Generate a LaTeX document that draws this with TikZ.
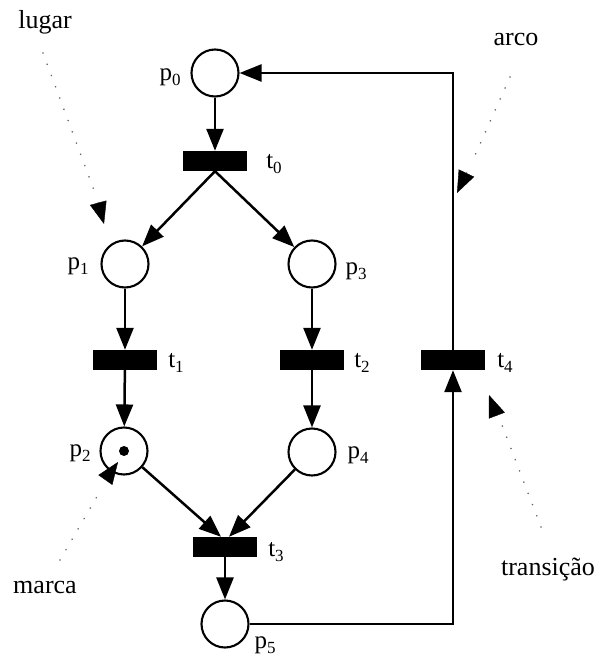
\documentclass[tikz,border=0pt]{standalone}
\usepackage{fontspec}
\setmainfont{Liberation Serif}
\usetikzlibrary{arrows.meta}
\newcommand\PNlab[2]{#1\raisebox{-5pt}{\fontsize{17}{17}\selectfont #2}}
\begin{document}
\begin{tikzpicture}[x=1pt,y=-1pt,
  place/.style={circle,draw,line width=2.1pt,minimum size=47pt,inner sep=0pt},
  trans/.style={rectangle,fill=black,minimum width=64pt,minimum height=20pt,inner sep=0pt},
  arc/.style={line width=2.5pt,-{Triangle[length=22pt,width=17pt]}},
  lbl/.style={font=\fontsize{25}{28}\selectfont,inner sep=0pt},
  note/.style={font=\fontsize{26}{28}\selectfont,inner sep=0pt},
  dots/.style={line width=1.8pt,dash pattern=on 0.01pt off 12pt,line cap=round,black!60},
  tipar/.style={line width=0.4pt,-{Triangle[length=22pt,width=17pt]}}
]
\useasboundingbox (0,0) rectangle (598,660);
% places
\node[place] (p0) at (215,73) {};
\node[place] (p1) at (125,264) {};
\node[place] (p3) at (312,264) {};
\node[place] (p2) at (124,451) {};
\node[place] (p4) at (312,452) {};
\node[place] (p5) at (225,624) {};
\node[circle,fill,inner sep=0pt,minimum size=10pt] (tok) at (p2) {};
% transitions
\node[trans] (t0) at (215,161) {};
\node[trans] (t1) at (125,360) {};
\node[trans] (t2) at (312,360) {};
\node[trans] (t4) at (453,360) {};
\node[trans] (t3) at (225,547) {};
% labels
\node[lbl] (lp0) at (170,77) {\PNlab{p}{0}};
\node[lbl] (lt0) at (274,164) {\PNlab{t}{0}};
\node[lbl] (lp1) at (78,266) {\PNlab{p}{1}};
\node[lbl] (lp3) at (356,271) {\PNlab{p}{3}};
\node[lbl] (lt1) at (176,363) {\PNlab{t}{1}};
\node[lbl] (lt2) at (362,363) {\PNlab{t}{2}};
\node[lbl] (lt4) at (505,363) {\PNlab{t}{4}};
\node[lbl] (lp2) at (80,453) {\PNlab{p}{2}};
\node[lbl] (lp4) at (358,455) {\PNlab{p}{4}};
\node[lbl] (lt3) at (276,552) {\PNlab{t}{3}};
\node[lbl] (lp5) at (265,645) {\PNlab{p}{5}};
% arcs
\draw[arc] (p0) -- (t0);
\draw[arc] (t0.south) -- (p1);
\draw[arc] (t0.south) -- (p3);
\draw[arc] (p1) -- (t1);
\draw[arc] (p3) -- (t2);
\draw[arc] (t1) -- (p2);
\draw[arc] (t2) -- (p4);
\draw[arc] (p2) -- ([xshift=-4pt]t3.north);
\draw[arc] (p4) -- ([xshift=4pt]t3.north);
\draw[arc] (t3) -- (p5);
\draw[arc] (p5.east) -| (t4.south);
\draw[arc] (t4.north) |- (p0.east);
% annotations
\node[note] (nlugar) at (45,22) {lugar};
\node[note] (narco) at (516,40) {arco};
\node[note] (ntrans) at (548,570) {transição};
\node[note] (nmarca) at (45,587) {marca};
\coordinate (a1) at (43,53); \coordinate (a2) at (95,193);
\coordinate (a3) at (98,202); \coordinate (a4) at (104,224);
\draw[dots] (a1) -- (a2);
\draw[tipar] (a3) -- (a4);
\coordinate (b1) at (510,77); \coordinate (b2) at (472,162);
\coordinate (b3) at (467,172); \coordinate (b4) at (457,193);
\draw[dots] (b1) -- (b2);
\draw[tipar] (b3) -- (b4);
\coordinate (c1) at (541,527); \coordinate (c2) at (502,425);
\coordinate (c3) at (497,416); \coordinate (c4) at (489,395);
\draw[dots] (c1) -- (c2);
\draw[tipar] (c3) -- (c4);
\coordinate (d1) at (60,560); \coordinate (d2) at (102,488);
\coordinate (d3) at (106,479); \coordinate (d4) at (118,462);
\draw[dots] (d1) -- (d2);
\draw[tipar] (d3) -- (d4);
\end{tikzpicture}
\end{document}
